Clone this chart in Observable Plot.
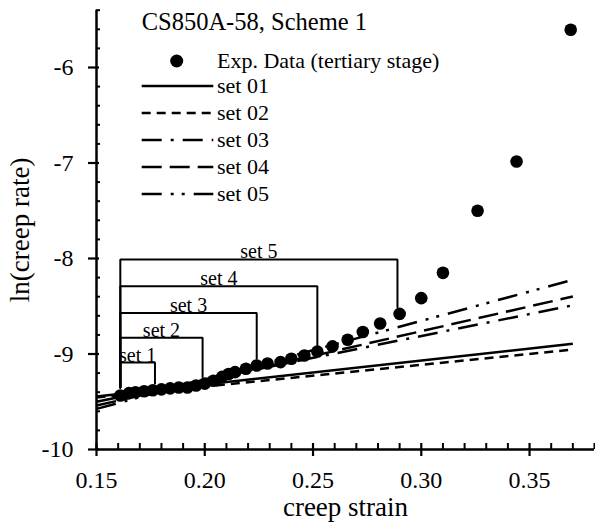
<!DOCTYPE html>
<html><head><meta charset="utf-8">
<script src="https://cdn.jsdelivr.net/npm/d3@7"></script>
<script src="https://cdn.jsdelivr.net/npm/@observablehq/plot@0.6"></script>
<style>
html,body{margin:0;padding:0;background:#fff;}
#chart{width:595px;height:524px;}
</style>
</head><body><div id="chart"></div>
<script>
// Experimental data (tertiary stage)
const expStrain = [0.161,0.165,0.168,0.172,0.176,0.180,0.184,0.188,0.192,0.196,0.200,0.204,0.208,0.211,0.214,0.219,0.224,0.229,0.235,0.240,0.246,0.252,0.259,0.266,0.273,0.281,0.290,0.300,0.310,0.326,0.344,0.369];
const expLnRate = [-9.435,-9.41,-9.40,-9.39,-9.38,-9.37,-9.36,-9.35,-9.35,-9.33,-9.31,-9.28,-9.24,-9.21,-9.19,-9.155,-9.12,-9.10,-9.085,-9.05,-9.015,-8.975,-8.92,-8.85,-8.77,-8.68,-8.58,-8.415,-8.15,-7.50,-6.985,-5.605];

// Fitted lines
const fitNames = ["set 01","set 02","set 03","set 04","set 05"];
const fitX = [0.15, 0.37];
const fitStartY = [-9.445,-9.455,-9.50,-9.54,-9.575];
const fitEndY = [-8.893,-8.953,-8.49,-8.398,-8.223];
const fitDash = [null, "9,6", "20,9,3,9", "20,8", "20,9,3,8,3,9"];

// Fitting-range brackets
const bracketLabels = ["set 1","set 2","set 3","set 4","set 5"];
const bracketStartX = 0.161;
const bracketEndX = [0.177,0.199,0.224,0.252,0.289];
const bracketTopY = [-9.09,-8.83,-8.57,-8.29,-8.01];
const bracketLeftBottomY = -9.35;
const bracketRightBottomY = [-9.31,-9.24,-9.05,-8.94,-8.51];

// Axes
const xTicks = [0.15,0.20,0.25,0.30,0.35];
const xTickLabels = ["0.15","0.20","0.25","0.30","0.35"];
const yTicks = [-10,-9,-8,-7,-6];
const yTickLabels = ["-10","-9","-8","-7","-6"];
const xMinor = d3.range(16,39).filter(v=>v%5!==0).map(v=>v/100);
const yMinor = d3.range(-50,-26).filter(v=>v%5!==0).map(v=>v/5);

const titleText = "CS850A-58, Scheme 1";
const expLegend = "Exp. Data (tertiary stage)";
const xLabel = "creep strain";
const yLabel = "ln(creep rate)";

const FONT = "'Liberation Serif', 'Times New Roman', serif";
const expData = expStrain.map((x,i)=>({x, y: expLnRate[i]}));

const marks = [];
// fit lines
fitNames.forEach((n,i)=>{
  const pts = [{x: fitX[0], y: fitStartY[i]}, {x: fitX[1], y: fitEndY[i]}];
  marks.push(Plot.line(pts, {x:"x", y:"y", stroke:"black", strokeWidth:2.5, strokeDasharray: fitDash[i] || undefined, strokeLinecap:"butt"}));
});
// data dots
marks.push(Plot.dot(expData, {x:"x", y:"y", r:6.3, fill:"black", stroke:"none"}));
// brackets
const bracketPts = bracketLabels.flatMap((l,i)=>[
  {s:l, x:bracketStartX, y:bracketLeftBottomY},
  {s:l, x:bracketStartX, y:bracketTopY[i]},
  {s:l, x:bracketEndX[i], y:bracketTopY[i]},
  {s:l, x:bracketEndX[i], y:bracketRightBottomY[i]}
]);
marks.push(Plot.line(bracketPts, {x:"x", y:"y", z:"s", stroke:"black", strokeWidth:2, strokeLinejoin:"miter"}));
marks.push(Plot.text(bracketLabels.map((l,i)=>({l, x:(bracketStartX+bracketEndX[i])/2, y:bracketTopY[i]})),
  {x:"x", y:"y", text:"l", lineAnchor:"bottom", dy:-1, fontSize:20, fill:"black"}));

// axis lines
marks.push(Plot.ruleY([-10], {stroke:"black", strokeWidth:2.5}));
marks.push(Plot.ruleX([0.15], {stroke:"black", strokeWidth:2.5}));
// major ticks (crossing)
marks.push(Plot.ruleX(xTicks, {x:d=>d, y1:-10, y2:-10, insetTop:-6, insetBottom:-7, stroke:"black", strokeWidth:2.2}));
marks.push(Plot.ruleY(yTicks, {y:d=>d, x1:0.15, x2:0.15, insetLeft:-8, insetRight:-3, stroke:"black", strokeWidth:2.2}));
// minor ticks (inside)
marks.push(Plot.ruleX(xMinor, {x:d=>d, y1:-10, y2:-10, insetTop:-6, insetBottom:0, stroke:"black", strokeWidth:2}));
marks.push(Plot.ruleY(yMinor, {y:d=>d, x1:0.15, x2:0.15, insetLeft:0, insetRight:-4, stroke:"black", strokeWidth:2}));
// tick labels
marks.push(Plot.text(xTicks, {x:d=>d, y:-10, text:(d,i)=>xTickLabels[i], dy:31, fontSize:24, fill:"black"}));
marks.push(Plot.text(yTicks, {x:0.15, y:d=>d, text:(d,i)=>yTickLabels[i], dx:-23, textAnchor:"end", fontSize:24, fill:"black"}));
// axis labels
marks.push(Plot.text([xLabel], {frameAnchor:"bottom", lineAnchor:"middle", textAnchor:"middle", text:d=>d, dy:58, fontSize:27, fill:"black"}));
marks.push(Plot.text([yLabel], {frameAnchor:"left", lineAnchor:"middle", textAnchor:"middle", text:d=>d, dx:-76, rotate:-90, fontSize:27, fill:"black"}));

const chart = Plot.plot({
  width:595, height:524,
  marginLeft:96, marginRight:1, marginTop:9.7, marginBottom:75,
  x:{domain:[0.15,0.38], axis:null},
  y:{domain:[-10,-5.4], axis:null},
  style:{fontFamily:FONT, background:"white", overflow:"visible"},
  marks
});
document.getElementById("chart").appendChild(chart);

// in-plot legend
const svg = d3.select(chart);
const lg = svg.append("g").attr("font-family", FONT).attr("fill","black").attr("text-anchor","start");
lg.append("text").attr("x",141.7).attr("y",21.7).attr("dy","0.34em").attr("font-size",24.5).text(titleText);
lg.append("circle").attr("cx",176.7).attr("cy",61).attr("r",6.5).attr("fill","black");
lg.append("text").attr("x",217).attr("y",61).attr("dy","0.34em").attr("font-size",22).text(expLegend);
const rowY = [86,113,140,167,194];
fitNames.forEach((n,i)=>{
  lg.append("line").attr("x1",141.7).attr("x2",213.3).attr("y1",rowY[i]).attr("y2",rowY[i])
    .attr("stroke","black").attr("stroke-width",2.5).attr("stroke-dasharray", fitDash[i]||null);
  lg.append("text").attr("x",217).attr("y",rowY[i]).attr("dy","0.34em").attr("font-size",22).text(n);
});
</script>
</body></html>
